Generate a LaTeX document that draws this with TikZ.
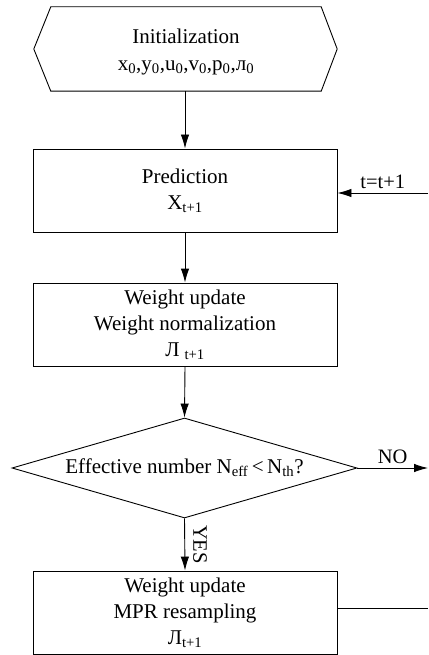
\documentclass[tikz,border=0pt]{standalone}
\usepackage{fontspec}
\setmainfont{Liberation Serif}
\usetikzlibrary{arrows.meta,shapes.geometric}
\begin{document}
\begin{tikzpicture}[x=1pt,y=-1pt,
  every node/.style={font=\fontsize{21}{26}\selectfont, inner sep=0pt, align=center},
  proc/.style={draw, line width=0.9pt, minimum width=304pt, minimum height=83pt},
  flow/.style={line width=0.9pt, -{Latex[length=14pt,width=8.5pt]}},
  plain/.style={line width=0.9pt},
  lbl/.style={font=\fontsize{20.5}{24}\selectfont}]
\useasboundingbox (0,0) rectangle (428,655);
% initialization (hexagon)
\node[minimum width=270pt, minimum height=84pt] (init) at (186,49) {};
\node (inittext) at (186,52)
  {Initialization\\[1pt] x\textsubscript{0},y\textsubscript{0},u\textsubscript{0},v\textsubscript{0},p\textsubscript{0},л\textsubscript{0}};
\draw[plain] (init.north west) -- (init.north east) -- ([xshift=16pt]init.east)
  -- (init.south east) -- (init.south west) -- ([xshift=-17pt]init.west) -- cycle;
% prediction
\node[proc] (pred) at (185,190.5) {Prediction\\X\textsubscript{t+1}};
% weight update
\node[proc] (wup) at (185,324.5) {Weight update\\Weight normalization\\Л\hspace{5pt}\textsubscript{t+1}};
% decision
\node[diamond, draw, line width=0.9pt, aspect=4, minimum width=345pt, minimum height=100pt] (dec) at (184.5,468)
  {Effective number N\textsubscript{eff}\,<\,N\textsubscript{th}?};
% resampling
\node[proc] (res) at (185,612.5) {Weight update\\MPR resampling\\Л\textsubscript{t+1}};
% connectors
\coordinate (tin) at (428,193);
\coordinate (noend) at (428,468);
\coordinate (resout) at (428,608);
\draw[flow] (init.south -| pred.north) -- (pred.north);
\draw[flow] (pred.south) -- (wup.north);
\draw[flow] (wup.south) -- (dec.north);
\draw[flow] (dec.south) -- (res.north) node[midway, right=8pt, rotate=-90, anchor=south, lbl] {YES};
\draw[flow] (tin) -- (tin -| pred.east) node[midway, above=4pt, lbl] {t=t+1};
\draw[flow] (dec.east) -- (noend) node[midway, above=4pt, lbl] {NO};
\draw[plain] (resout -| res.east) -- (resout);
\end{tikzpicture}
\end{document}
